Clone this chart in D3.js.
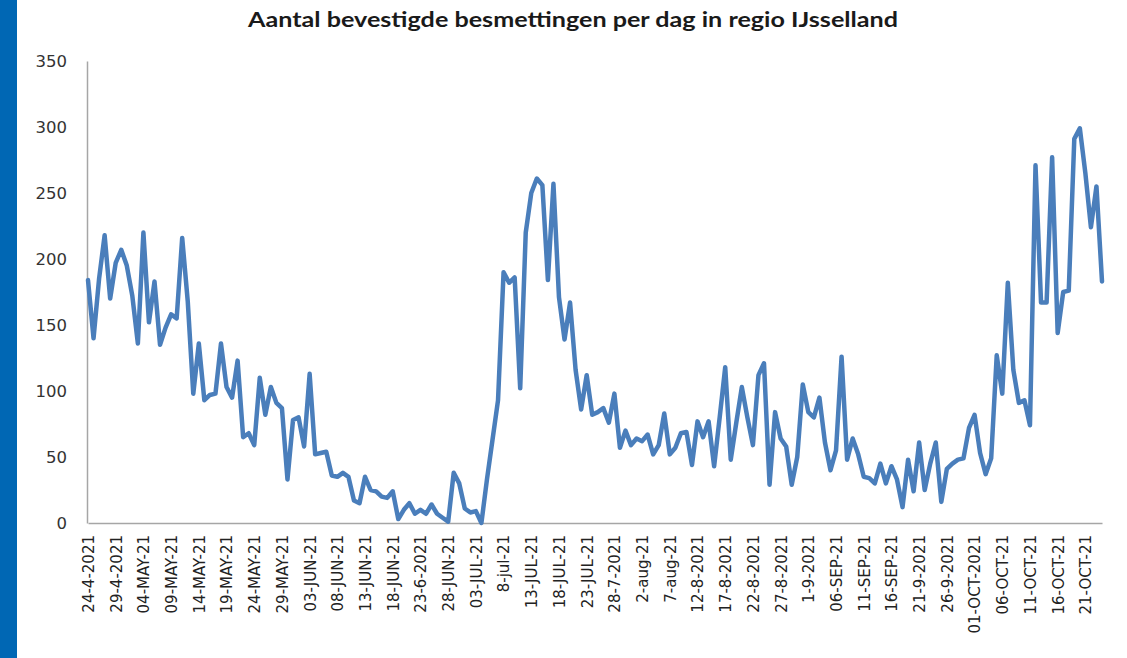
<!DOCTYPE html>
<html>
<head>
<meta charset="utf-8">
<script src="https://cdn.jsdelivr.net/npm/d3@7"></script>
<style>
  body { margin: 0; background: #fff; }
  svg { display: block; }
</style>
</head>
<body>
<svg id="chart"></svg>
<script>
const w = 1127;
const h = 658;

const title = "Aantal bevestigde besmettingen per dag in regio IJsselland";

// daily confirmed cases, 24 Apr 2021 .. 24 Oct 2021
const cases = [
  184, 140, 185, 218, 170, 197, 207, 195, 172, 136,
  220, 152, 183, 135, 148, 158, 155, 216, 168, 98,
  136, 93, 97, 98, 136, 103, 95, 123, 65, 68,
  59, 110, 82, 103, 91, 87, 33, 78, 80, 58,
  113, 52, 53, 54, 36, 35, 38, 35, 17, 15,
  35, 25, 24, 20, 19, 24, 3, 10, 15, 7,
  10, 7, 14, 7, 4, 1, 38, 30, 11, 8,
  9, 0, 33, 63, 93, 190, 182, 186, 102, 220,
  250, 261, 256, 184, 257, 171, 139, 167, 116, 86,
  112, 82, 84, 87, 76, 98, 57, 70, 59, 64,
  62, 67, 52, 59, 83, 52, 57, 68, 69, 44,
  77, 65, 77, 43, 80, 118, 48, 76, 103, 80,
  59, 112, 121, 29, 84, 64, 58, 29, 50, 105,
  84, 80, 95, 61, 40, 55, 126, 48, 64, 52,
  35, 34, 30, 45, 30, 43, 33, 12, 48, 24,
  61, 25, 45, 61, 16, 41, 45, 48, 49, 72,
  82, 53, 37, 49, 127, 98, 182, 116, 91, 93,
  74, 271, 167, 167, 277, 144, 175, 176, 291, 299,
  265, 224, 255, 183
];

// x tick labels, one every 5 days (as they appear in the source sheet)
const tickLabels = [
  "24-4-2021", "29-4-2021", "04-MAY-21", "09-MAY-21", "14-MAY-21", "19-MAY-21",
  "24-MAY-21", "29-MAY-21", "03-JUN-21", "08-JUN-21", "13-JUN-21", "18-JUN-21",
  "23-6-2021", "28-JUN-21", "03-JUL-21", "8-jul-21", "13-JUL-21", "18-JUL-21",
  "23-JUL-21", "28-7-2021", "2-aug-21", "7-aug-21", "12-8-2021", "17-8-2021",
  "22-8-2021", "27-8-2021", "1-9-2021", "06-SEP-21", "11-SEP-21", "16-SEP-21",
  "21-9-2021", "26-9-2021", "01-OCT-2021", "06-OCT-21", "11-OCT-21", "16-OCT-21",
  "21-OCT-21"
];

const yTicks = [0, 50, 100, 150, 200, 250, 300, 350];

const startDate = new Date(2021, 3, 24);
const days = cases.map((v, i) => ({ date: d3.timeDay.offset(startDate, i), value: v }));
const tickDates = tickLabels.map((l, i) => d3.timeDay.offset(startDate, i * 5));

const svg = d3.select("#chart")
  .attr("width", w)
  .attr("height", h);

// blue band on the left edge
svg.append("rect")
  .attr("x", 0).attr("y", 0)
  .attr("width", 17).attr("height", h)
  .attr("fill", "#0067b4");

const xScale = d3.scaleTime()
  .domain(d3.extent(days, d => d.date))
  .range([88, 1102]);

const yScale = d3.scaleLinear()
  .domain([0, 350])
  .range([523, 61]);

// title
svg.append("text")
  .attr("x", 573)
  .attr("y", 27)
  .attr("text-anchor", "middle")
  .attr("font-family", "Lato, 'Open Sans', sans-serif")
  .attr("font-weight", "bold")
  .attr("font-size", 20)
  .attr("textLength", 650)
  .attr("lengthAdjust", "spacingAndGlyphs")
  .attr("fill", "#1a1a1a")
  .text(title);

// y axis
const yAxis = d3.axisLeft(yScale)
  .tickValues(yTicks)
  .tickSize(0)
  .tickPadding(20);

const gy = svg.append("g")
  .attr("transform", "translate(87,0)")
  .call(yAxis);
gy.select(".domain").attr("stroke", "#a6a6a6").attr("stroke-width", 1.5);
gy.selectAll("text")
  .attr("font-family", "'DejaVu Sans', sans-serif")
  .attr("font-size", 16.5)
  .attr("fill", "#333");

// x axis
const xAxis = d3.axisBottom(xScale)
  .tickValues(tickDates)
  .tickFormat((d, i) => tickLabels[i])
  .tickSize(0);

const gx = svg.append("g")
  .attr("transform", "translate(0,523)")
  .call(xAxis);
gx.select(".domain").attr("stroke", "#a6a6a6").attr("stroke-width", 1.5);
gx.selectAll("text")
  .attr("font-family", "'DejaVu Sans', sans-serif")
  .attr("font-size", 15)
  .attr("fill", "#222")
  .attr("text-anchor", "end")
  .attr("transform", "rotate(-90)")
  .attr("x", -12)
  .attr("y", 0)
  .attr("dy", "0.36em");

// line
const line = d3.line()
  .x(d => xScale(d.date))
  .y(d => yScale(d.value));

svg.append("path")
  .datum(days)
  .attr("d", line)
  .attr("fill", "none")
  .attr("stroke", "#4a7ebb")
  .attr("stroke-width", 4.5)
  .attr("stroke-linejoin", "round")
  .attr("stroke-linecap", "round");
</script>
</body>
</html>
